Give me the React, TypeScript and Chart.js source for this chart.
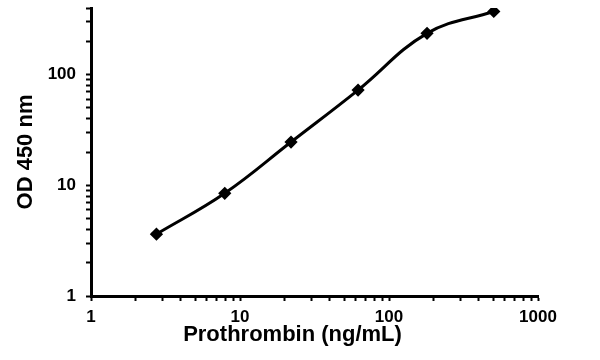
import React, { useEffect, useRef } from 'react';
import { Chart, registerables } from 'chart.js';

Chart.register(...registerables);

// Data
const concentrations = [2.75, 7.9, 22, 62, 180, 505];
const odValues = [3.62, 8.47, 24.6, 72.5, 236, 372];
const xTickLabels = [1, 10, 100, 1000];
const yTickLabels = [1, 10, 100];
const xTitle = 'Prothrombin (ng/mL)';
const yTitle = 'OD 450 nm';

const FONT_FAMILY = '"Liberation Sans", Arial, Helvetica, sans-serif';

const keepIntegerMantissa = (scale: any) => {
  scale.ticks = scale.ticks.filter((t: any) => {
    const v = t.value;
    const p = Math.pow(10, Math.floor(Math.log10(v) + 1e-9));
    const m = v / p;
    return Math.abs(m - Math.round(m)) < 1e-6;
  });
};

const xTitlePlugin = {
  id: 'xTitleText',
  afterDraw(chart: any) {
    const { ctx, chartArea } = chart;
    ctx.save();
    ctx.font = `bold 22px ${FONT_FAMILY}`;
    ctx.fillStyle = '#000';
    ctx.textAlign = 'center';
    ctx.textBaseline = 'middle';
    ctx.fillText(xTitle, (chartArea.left + chartArea.right) / 2 - 22, chartArea.bottom + 39);
    ctx.restore();
  },
};

export default function App() {
  const canvasRef = useRef<HTMLCanvasElement | null>(null);

  useEffect(() => {
    if (!canvasRef.current) return;
    const chart = new Chart(canvasRef.current, {
      type: 'line',
      data: {
        datasets: [
          {
            data: concentrations.map((x, i) => ({ x, y: odValues[i] })),
            borderColor: '#000',
            backgroundColor: '#000',
            borderWidth: 3,
            tension: 0.4,
            pointStyle: 'rectRot',
            pointRadius: 4.5,
            pointBackgroundColor: '#000',
            pointBorderColor: '#000',
            fill: false,
          },
        ],
      },
      options: {
        animation: false,
        responsive: false,
        layout: { padding: { top: 0, right: 62, left: 0, bottom: 0 } },
        plugins: {
          legend: { display: false },
          tooltip: { enabled: false },
        },
        scales: {
          x: {
            type: 'logarithmic',
            position: 'bottom',
            min: 1,
            max: 1000,
            border: { display: true, color: '#000', width: 3 },
            grid: {
              drawOnChartArea: false,
              drawTicks: true,
              tickLength: 5,
              tickColor: '#000',
              tickWidth: 2,
            },
            ticks: {
              autoSkip: false,
              maxRotation: 0,
              padding: 6,
              color: '#000',
              font: { family: FONT_FAMILY, size: 17, weight: 'bold' },
              callback: (v: any) => (xTickLabels.includes(Number(v)) ? String(v) : ''),
            },
            afterBuildTicks: keepIntegerMantissa,
            afterFit: (s: any) => {
              s.height = 64;
            },
          },
          y: {
            type: 'logarithmic',
            position: 'left',
            min: 1,
            max: 400,
            border: { display: true, color: '#000', width: 3 },
            grid: {
              drawOnChartArea: false,
              drawTicks: true,
              tickLength: 5,
              tickColor: '#000',
              tickWidth: 2,
            },
            ticks: {
              autoSkip: false,
              padding: 10,
              color: '#000',
              font: { family: FONT_FAMILY, size: 17, weight: 'bold' },
              callback: (v: any) => (yTickLabels.includes(Number(v)) ? String(v) : ''),
            },
            title: {
              display: true,
              text: yTitle,
              color: '#000',
              font: { family: FONT_FAMILY, size: 22, weight: 'bold' },
              padding: { top: 13, bottom: 0 },
            },
            afterBuildTicks: keepIntegerMantissa,
            afterFit: (s: any) => {
              s.width = 91;
              s.paddingTop = 8;
              s.paddingBottom = 0;
            },
          },
        },
      },
      plugins: [xTitlePlugin],
    } as any);
    return () => chart.destroy();
  }, []);

  return (
    <div style={{ position: 'absolute', left: 0, top: 0, width: 600, height: 360, background: '#fff' }}>
      <canvas ref={canvasRef} width={600} height={360} style={{ display: 'block' }} />
    </div>
  );
}
